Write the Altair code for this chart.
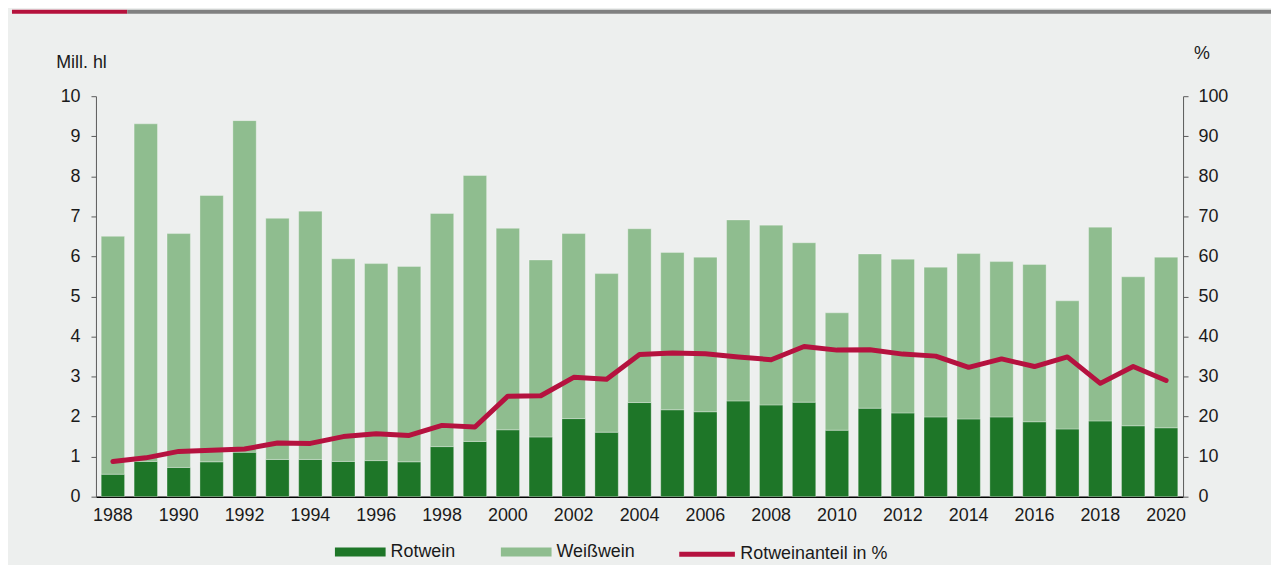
import altair as alt
import pandas as pd

years = list(range(1988, 2021))
rotwein = [0.56, 0.88, 0.73, 0.87, 1.11, 0.93, 0.93, 0.88, 0.90, 0.87,
           1.25, 1.38, 1.67, 1.49, 1.95, 1.61, 2.35, 2.17, 2.12, 2.39,
           2.29, 2.36, 1.66, 2.21, 2.09, 1.99, 1.94, 1.99, 1.87, 1.69,
           1.89, 1.77, 1.72]
weisswein = [5.94, 8.43, 5.84, 6.65, 8.28, 6.02, 6.20, 5.06, 4.92, 4.88,
             5.82, 6.64, 5.03, 4.42, 4.62, 3.96, 4.34, 3.93, 3.86, 4.52,
             4.49, 3.98, 2.93, 3.85, 3.84, 3.74, 4.13, 3.88, 3.93, 3.20,
             4.84, 3.72, 4.26]
anteil = [8.8, 9.7, 11.3, 11.6, 11.9, 13.4, 13.3, 15.0, 15.7, 15.3,
          17.8, 17.4, 25.1, 25.2, 29.8, 29.3, 35.5, 35.9, 35.7, 34.9,
          34.2, 37.5, 36.6, 36.7, 35.6, 35.1, 32.3, 34.4, 32.5, 34.9,
          28.3, 32.5, 29.0]
bar_series = ["Rotwein", "Weißwein"]
line_series = "Rotweinanteil in %"
label_years = list(range(1988, 2021, 2))

rows = []
for i, y in enumerate(years):
    rows.append({"year": y, "sorte": bar_series[0], "wert": rotwein[i], "ord": 0})
    rows.append({"year": y, "sorte": bar_series[1], "wert": weisswein[i], "ord": 1})
bars_df = pd.DataFrame(rows)
line_df = pd.DataFrame({"year": years, "anteil": anteil, "series": [line_series] * len(years)})

FONT = "Liberation Sans"
TXT = "#1a1a1a"
AX = "#5a5a5a"

x_enc = alt.X(
    "year:O",
    scale=alt.Scale(paddingInner=0.29, paddingOuter=0.16),
    axis=alt.Axis(values=label_years, title=None, labelAngle=0, ticks=False,
                  domainColor="black", domainWidth=1.5, labelPadding=10,
                  labelFontSize=18, labelColor=TXT, labelFont=FONT),
)

bars = alt.Chart(bars_df).mark_bar(stroke="white", strokeOpacity=0.3, strokeWidth=1).encode(
    x=x_enc,
    y=alt.Y("wert:Q", stack="zero",
            scale=alt.Scale(domain=[0, 10], nice=False),
            axis=alt.Axis(orient="left", values=list(range(0, 11)), title="Mill. hl",
                          titleAngle=0, titleAlign="left", titleBaseline="middle",
                          titleX=-40.5, titleY=-33.5, grid=False, tickSize=5,
                          labelPadding=11, domainColor=AX, tickColor=AX,
                          labelFontSize=18, titleFontSize=18, titleFontWeight="normal",
                          labelColor=TXT, titleColor=TXT, labelFont=FONT, titleFont=FONT)),
    color=alt.Color("sorte:N",
                    scale=alt.Scale(domain=bar_series, range=["#1e7628", "#8fbd8f"]),
                    legend=alt.Legend(title=None, orient="none", legendX=240.5, legendY=433,
                                      direction="horizontal",
                                      symbolType="M-1,-0.176L1,-0.176L1,0.176L-1,0.176Z",
                                      symbolSize=2601, symbolStrokeWidth=0, symbolOpacity=1,
                                      labelOffset=5, columnPadding=45, padding=0,
                                      labelFontSize=18, labelColor=TXT, labelFont=FONT)),
    order=alt.Order("ord:Q"),
)

line = alt.Chart(line_df).mark_line(strokeWidth=5, strokeJoin="round", strokeCap="round").encode(
    x=x_enc,
    y=alt.Y("anteil:Q",
            scale=alt.Scale(domain=[0, 100], nice=False),
            axis=alt.Axis(orient="right", values=list(range(0, 101, 10)), title="%",
                          titleAngle=0, titleAlign="left", titleBaseline="middle",
                          titleX=10.5, titleY=-43, grid=False, tickSize=5,
                          labelPadding=10, domainColor=AX, tickColor=AX,
                          labelFontSize=18, titleFontSize=18, titleFontWeight="normal",
                          labelColor=TXT, titleColor=TXT, labelFont=FONT, titleFont=FONT)),
    stroke=alt.Stroke("series:N",
                      scale=alt.Scale(domain=[line_series], range=["#b5123f"]),
                      legend=alt.Legend(title=None, orient="none", legendX=584.5, legendY=430.5,
                                        symbolType="stroke", symbolSize=3136,
                                        symbolStrokeWidth=5, labelOffset=3, padding=0,
                                        labelFontSize=18, labelColor=TXT, labelFont=FONT)),
)

deco = alt.Data(values=[{"k": 1}])
top_red = alt.Chart(deco).mark_rect(color="#b5123c").encode(
    x=alt.value(-84.5), x2=alt.value(31.5), y=alt.value(-87), y2=alt.value(-83))
top_gray = alt.Chart(deco).mark_rect(color="#808080").encode(
    x=alt.value(31.5), x2=alt.value(1182.5), y=alt.value(-87), y2=alt.value(-83))

chart = alt.layer(bars, line, top_red, top_gray).resolve_scale(
    y="independent"
).properties(
    width=1094, height=403,
    padding={"left": 88.5, "top": 87, "right": 88.5, "bottom": 67},
    autosize=alt.AutoSizeParams(type="none"),
    background="#edefee",
).configure_view(strokeWidth=0)

chart.save("out.html", embed_options={"renderer": "svg", "actions": False})
